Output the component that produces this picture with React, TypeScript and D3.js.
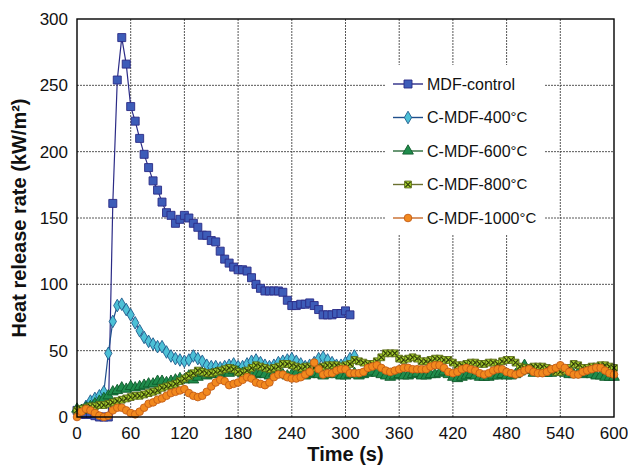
import { useEffect, useRef } from "react";
import * as d3 from "d3";

// heat release rate readings, one every 5 s
const control = [
  5, 2, 2, 2, 1, 0, 0, 0, 161, 254, 286, 266,
  234, 223, 210, 198, 188, 178, 171, 162, 154, 152, 146, 149,
  152, 150, 146, 143, 137, 137, 133, 132, 125, 119, 116, 113,
  111, 111, 110, 105, 100, 97, 95, 95, 95, 95, 94, 88,
  84, 84, 85, 85, 86, 84, 81, 77, 77, 77, 78, 78,
  80, 77,
];

const c400 = [
  3, 5, 8, 12, 14, 16, 19, 48, 72, 84, 85, 81,
  77, 71, 65, 60, 57, 55, 53, 53, 49, 46, 44, 43,
  42, 43, 46, 44, 42, 39, 38, 38, 37, 38, 39, 40,
  38, 38, 40, 42, 43, 41, 39, 38, 39, 41, 42, 43,
  44, 42, 40, 38, 39, 41, 44, 45, 43, 41, 39, 39,
  41, 44, 46,
];

const c600 = [
  6, 5, 7, 8, 10, 12, 14, 16, 19, 20, 22, 21,
  23, 22, 23, 24, 25, 25, 27, 27, 26, 27, 28, 29,
  28, 31, 28, 30, 33, 31, 32, 33, 32, 34, 33, 35,
  34, 33, 32, 31, 32, 33, 32, 31, 33, 34, 32, 31,
  32, 33, 32, 31, 32, 33, 32, 31, 32, 33, 32, 31,
  31, 32, 33, 31, 32, 33, 34, 33, 32, 31, 30, 31,
  32, 31, 31, 32, 33, 31, 31, 32, 32, 33, 34, 32,
  30, 29, 30, 31, 32, 31, 30, 30, 30, 31, 31, 32,
  31, 31, 32, 34, 39, 35, 33, 34, 33, 33, 33, 34,
  35, 33, 32, 32, 33, 32, 33, 32, 31, 31, 30, 30, 30,
];

const c800 = [
  5, 6, 7, 8, 8, 9, 9, 10, 11, 12, 13, 14,
  15, 16, 16, 17, 18, 19, 20, 22, 23, 24, 25, 27,
  29, 31, 33, 35, 34, 33, 33, 34, 35, 36, 37, 36,
  34, 33, 35, 37, 39, 38, 37, 36, 37, 38, 40, 40,
  39, 38, 37, 38, 38, 37, 37, 38, 39, 39, 39, 38,
  39, 40, 43, 42, 41, 40, 40, 42, 45, 48, 48, 48,
  44, 43, 44, 45, 44, 42, 42, 43, 44, 44, 43, 43,
  41, 39, 39, 40, 41, 41, 40, 40, 41, 41, 40, 42,
  43, 43, 41, 38, 37, 37, 38, 38, 38, 37, 36, 34,
  34, 35, 37, 40, 39, 37, 37, 38, 38, 39, 39, 38, 37,
];

const c1000 = [
  0, 4, 6, 5, 3, 1, 0, 1, 5, 7, 7, 5,
  3, 2, 4, 7, 10, 11, 13, 14, 16, 18, 19, 20,
  21, 18, 16, 15, 16, 19, 23, 26, 28, 27, 24, 25,
  26, 28, 30, 29, 26, 25, 24, 26, 30, 32, 32, 30,
  29, 29, 30, 32, 34, 41, 36, 32, 33, 33, 35, 36,
  36, 33, 33, 33, 34, 37, 38, 39, 37, 35, 34, 35,
  36, 37, 37, 36, 36, 36, 36, 38, 39, 39, 37, 34,
  33, 34, 36, 37, 36, 35, 33, 32, 33, 35, 36, 36,
  34, 33, 32, 33, 35, 36, 34, 33, 33, 34, 36, 37,
  39, 37, 34, 32, 32, 34, 35, 36, 37, 37, 35, 33, 32,
];

const seriesNames = ["MDF-control", "C-MDF-400", "C-MDF-600", "C-MDF-800", "C-MDF-1000"];
const xTicks = [0, 60, 120, 180, 240, 300, 360, 420, 480, 540, 600];
const yTicks = [0, 50, 100, 150, 200, 250, 300];

const styles = [
  { line: "#2b2b86", fill: "#3d5cb8", stroke: "#2b2b86", shape: "square" },
  { line: "#1f4f8c", fill: "#4cc0d6", stroke: "#1f5a8c", shape: "diamond" },
  { line: "#2a6a3a", fill: "#1f8c4c", stroke: "#0f5a2a", shape: "triangle" },
  { line: "#6a7030", fill: "#a6d22c", stroke: "#5a6a18", shape: "x" },
  { line: "#c86a2a", fill: "#f2891e", stroke: "#c45c16", shape: "circle" },
];

export default function App() {
  const ref = useRef<SVGSVGElement>(null);

  useEffect(() => {
    const width = 628;
    const height = 467;
    const margin = { top: 19, right: 14, bottom: 50, left: 77 };
    const font = "'Liberation Sans', Arial, sans-serif";

    const svg = d3.select(ref.current);
    svg.selectAll("*").remove();
    svg.attr("viewBox", `0 0 ${width} ${height}`);

    const x = d3.scaleLinear().domain([0, 600]).range([margin.left, width - margin.right]);
    const y = d3.scaleLinear().domain([0, 300]).range([height - margin.bottom, margin.top]);

    svg.append("rect").attr("width", width).attr("height", height).attr("fill", "#fff");

    // grid
    const grid = svg.append("g").attr("stroke", "#444").attr("stroke-dasharray", "2,1").attr("stroke-width", 0.9);
    grid
      .selectAll("line.v")
      .data(xTicks.slice(1, -1))
      .join("line")
      .attr("x1", (d) => x(d))
      .attr("x2", (d) => x(d))
      .attr("y1", y(0))
      .attr("y2", y(300));
    grid
      .selectAll("line.h")
      .data(yTicks.slice(1, -1))
      .join("line")
      .attr("x1", x(0))
      .attr("x2", x(600))
      .attr("y1", (d) => y(d))
      .attr("y2", (d) => y(d));

    // legend background hides the grid
    const lgX = 385;
    const lgY = 65;
    svg.append("rect").attr("x", lgX).attr("y", lgY).attr("width", 160).attr("height", 170).attr("fill", "#fff");

    const symbolPath = (shape: string) => {
      if (shape === "square") return d3.symbol(d3.symbolSquare, 64)();
      if (shape === "diamond") return d3.symbol(d3.symbolDiamond, 46)();
      if (shape === "triangle") return d3.symbol(d3.symbolTriangle, 50)();
      if (shape === "circle") return d3.symbol(d3.symbolCircle, 46)();
      return d3.symbol(d3.symbolSquare, 46)();
    };

    const allSeries = [control, c400, c600, c800, c1000];

    allSeries.forEach((vals, i) => {
      const st = styles[i];
      const pts = vals.map((v, j) => [j * 5, v] as [number, number]);
      const g = svg.append("g");

      g.append("path")
        .datum(pts)
        .attr("fill", "none")
        .attr("stroke", st.line)
        .attr("stroke-width", 1.2)
        .attr("d", d3.line<[number, number]>().x((d) => x(d[0])).y((d) => y(d[1])));

      const marks = g
        .selectAll("g.m")
        .data(pts)
        .join("g")
        .attr("transform", (d) => `translate(${x(d[0])},${y(d[1])})`);

      marks
        .append("path")
        .attr("d", symbolPath(st.shape))
        .attr("fill", st.fill)
        .attr("stroke", st.stroke)
        .attr("stroke-width", 0.9);

      if (st.shape === "x") {
        marks
          .append("path")
          .attr("d", "M-2.8,-2.8L2.8,2.8M-2.8,2.8L2.8,-2.8")
          .attr("stroke", "#2f3a0a")
          .attr("stroke-width", 1.2);
      }
    });

    // frame
    svg
      .append("rect")
      .attr("x", x(0))
      .attr("y", y(300))
      .attr("width", x(600) - x(0))
      .attr("height", y(0) - y(300))
      .attr("fill", "none")
      .attr("stroke", "#000")
      .attr("stroke-width", 1.4);

    // tick labels
    svg
      .append("g")
      .selectAll("text")
      .data(xTicks)
      .join("text")
      .attr("x", (d) => x(d))
      .attr("y", height - margin.bottom + 22)
      .attr("text-anchor", "middle")
      .attr("font-family", font)
      .attr("font-size", 17)
      .attr("fill", "#111")
      .text((d) => d);

    svg
      .append("g")
      .selectAll("text")
      .data(yTicks)
      .join("text")
      .attr("x", margin.left - 9)
      .attr("y", (d) => y(d))
      .attr("dy", "0.35em")
      .attr("text-anchor", "end")
      .attr("font-family", font)
      .attr("font-size", 17)
      .attr("fill", "#111")
      .text((d) => d);

    // axis titles
    svg
      .append("text")
      .attr("x", (x(0) + x(600)) / 2)
      .attr("y", height - 6)
      .attr("text-anchor", "middle")
      .attr("font-family", font)
      .attr("font-size", 20)
      .attr("font-weight", "bold")
      .attr("fill", "#111")
      .text("Time (s)");

    svg
      .append("text")
      .attr("transform", `translate(26,${(y(0) + y(300)) / 2}) rotate(-90)`)
      .attr("text-anchor", "middle")
      .attr("font-family", font)
      .attr("font-size", 20)
      .attr("font-weight", "bold")
      .attr("fill", "#111")
      .text("Heat release rate (kW/m²)");

    // legend
    const legend = svg
      .append("g")
      .selectAll("g")
      .data(seriesNames)
      .join("g")
      .attr("transform", (_, i) => `translate(${lgX + 8},${84 + i * 33.5})`);

    legend
      .append("line")
      .attr("x1", 0)
      .attr("x2", 30)
      .attr("stroke", (_, i) => styles[i].line)
      .attr("stroke-width", 1.4);

    legend.each(function (_, i) {
      const st = styles[i];
      const g = d3.select(this).append("g").attr("transform", "translate(15,0)");
      g.append("path")
        .attr("d", symbolPath(st.shape))
        .attr("fill", st.fill)
        .attr("stroke", st.stroke)
        .attr("stroke-width", 0.9);
      if (st.shape === "x") {
        g.append("path")
          .attr("d", "M-2.6,-2.6L2.6,2.6M-2.6,2.6L2.6,-2.6")
          .attr("stroke", "#2f3a0a")
          .attr("stroke-width", 1.2);
      }
    });

    const labels = legend
      .append("text")
      .attr("x", 34)
      .attr("dy", "0.35em")
      .attr("font-family", font)
      .attr("font-size", 16)
      .attr("fill", "#111");

    labels.append("tspan").text((d) => d);
    labels
      .filter((_, i) => i > 0)
      .append("tspan")
      .attr("font-size", 15)
      .attr("dy", -1)
      .text("°C");
  }, []);

  return (
    <svg
      ref={ref}
      width={628}
      height={467}
      style={{ position: "absolute", left: 0, top: 0, display: "block" }}
    />
  );
}
